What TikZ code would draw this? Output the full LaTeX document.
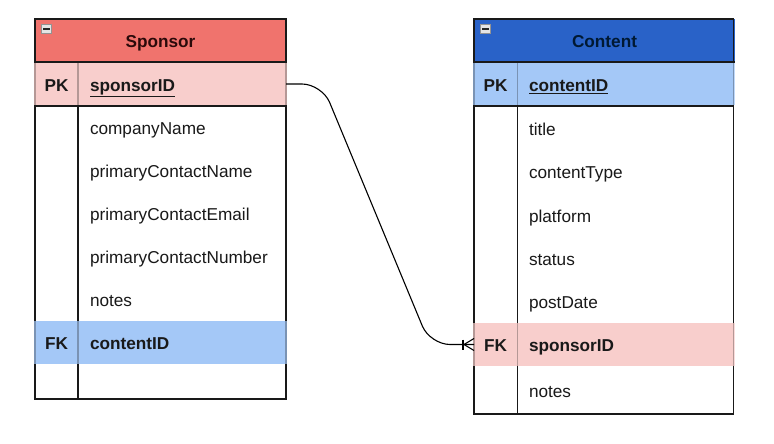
\documentclass[tikz,border=0pt]{standalone}
\usepackage{fontspec}
\setmainfont{Liberation Sans}
\usetikzlibrary{calc}
\pgfdeclarelayer{bg}\pgfdeclarelayer{lines}\pgfdeclarelayer{veil}
\pgfsetlayers{bg,lines,veil,main}
\definecolor{sphead}{HTML}{F0736D}
\definecolor{pinkrow}{HTML}{F8CECC}
\definecolor{cthead}{HTML}{2962C8}
\definecolor{bluerow}{HTML}{A4C8F7}
\definecolor{sptxt}{HTML}{2B0A0A}
\definecolor{cttxt}{HTML}{001933}
\newcommand\fsz{\fontsize{17.2}{20}\selectfont}
\begin{document}
\begin{tikzpicture}[x=1pt,y=-1pt,
  cell/.style={inner sep=0pt, outer sep=0pt, anchor=north west, font=\fsz, text=black!90, text height=14.5pt, text depth=0pt},
  hdr/.style={cell, font=\fsz\bfseries},
  keyc/.style={cell, minimum width=43pt, align=center, font=\fsz\bfseries},
  sfield/.style={cell, text width=184pt, inner xsep=12pt, align=left},
  cfield/.style={cell, text width=193pt, inner xsep=11.5pt, align=left},
  border/.style={line width=1.2pt, draw=black!90},
  conn/.style={line width=1.1pt, draw=black},
  minus/.style={draw=gray!85, line width=0.8pt, fill=gray!20, inner sep=0pt, minimum width=10pt, minimum height=9pt, anchor=north west},
]
\useasboundingbox (0,0) rectangle (774,444);

% ---------------- Sponsor ----------------
\node[hdr, text=sptxt, minimum width=251pt, minimum height=43pt] (sH) at (35,19) {Sponsor};
\node[minus] (sMin) at (41,24) {};
\draw[line width=1.5pt, black!85] ($(sMin.west)+(2.3,0)$) -- ($(sMin.east)+(-2.3,0)$);
\node[keyc, minimum height=44pt] (sK1) at (35,62) {PK};
\node[sfield, minimum height=44pt] (sF1) at (78,62) {\textbf{\underline{sponsorID}}};
\node[sfield, minimum height=43pt] (sF2) at (78,106) {companyName};
\node[sfield, minimum height=43pt] (sF3) at (78,149) {primaryContactName};
\node[sfield, minimum height=43pt] (sF4) at (78,192) {primaryContactEmail};
\node[sfield, minimum height=43pt] (sF5) at (78,235) {primaryContactNumber};
\node[sfield, minimum height=43pt] (sF6) at (78,278) {notes};
\node[keyc, minimum height=43pt] (sK7) at (35,321) {FK};
\node[sfield, minimum height=43pt] (sF7) at (78,321) {\textbf{contentID}};
\node[sfield, minimum height=35pt] (sF8) at (78,364) {};

% ---------------- Content ----------------
\node[hdr, text=cttxt, minimum width=261pt, minimum height=43pt] (cH) at (474,19) {Content};
\node[minus] (cMin) at (480,24) {};
\draw[line width=1.5pt, black!85] ($(cMin.west)+(2.3,0)$) -- ($(cMin.east)+(-2.3,0)$);
\node[keyc, minimum height=44pt] (cK1) at (474,62) {PK};
\node[cfield, minimum height=44pt] (cF1) at (517.5,62) {\textbf{\underline{contentID}}};
\node[cfield, minimum height=44pt] (cF2) at (517.5,106) {title};
\node[cfield, minimum height=43pt] (cF3) at (517.5,150) {contentType};
\node[cfield, minimum height=44pt] (cF4) at (517.5,193) {platform};
\node[cfield, minimum height=43pt] (cF5) at (517.5,237) {status};
\node[cfield, minimum height=43pt] (cF6) at (517.5,280) {postDate};
\node[keyc, minimum height=43pt] (cK7) at (474,323) {FK};
\node[cfield, minimum height=43pt] (cF7) at (517.5,323) {\textbf{sponsorID}};
\node[cfield, minimum height=48pt] (cF8) at (517.5,366) {notes};

% fills
\begin{pgfonlayer}{bg}
  \fill[white] (0,0) rectangle (774,444);
  \fill[sphead] (sH.north west) rectangle (sH.south east);
  \fill[pinkrow] (sK1.north west) rectangle (sF1.south east);
  \fill[bluerow] (sK7.north west) rectangle (sF7.south east);
  \fill[cthead] (cH.north west) rectangle (cH.south east);
  \fill[bluerow] (cK1.north west) rectangle (cF1.south east);
  \fill[pinkrow] (cK7.north west) rectangle (cF7.south east);
\end{pgfonlayer}

% lines
\begin{pgfonlayer}{lines}
  \draw[border] (sH.north west) rectangle (sF8.south east);
  \draw[border] (sH.south west) -- (sH.south east);
  \draw[border] (sF1.north west) -- (sF8.south west);
  \draw[border] (cH.north west) rectangle (cF8.south east);
  \draw[border] (cH.south west) -- (cH.south east);
  \draw[border] (cF1.north west) -- (cF8.south west);
\end{pgfonlayer}

% veils over coloured rows (lighten lines there)
\begin{pgfonlayer}{veil}
  \fill[pinkrow, opacity=0.7] ($(sK1.north west)+(-1,1)$) rectangle ($(sF1.south east)+(1,-1)$);
  \fill[bluerow, opacity=0.7] ($(sK7.north west)+(-1,0)$) rectangle ($(sF7.south east)+(1,0)$);
  \fill[bluerow, opacity=0.7] ($(cK1.north west)+(-1,1)$) rectangle ($(cF1.south east)+(1,-1)$);
  \fill[pinkrow, opacity=0.7] ($(cK7.north west)+(-1,0)$) rectangle ($(cF7.south east)+(1,0)$);
\end{pgfonlayer}
\draw[border] (sK1.south west) -- (sF1.south east);
\draw[border] (cK1.south west) -- (cF1.south east);

% connector with one-or-many crow's foot
\draw[conn, rounded corners=20pt] (sF1.east) -- (322,84) -- (430,344.5) -- (cK7.west);
\draw[conn] ($(cK7.west)+(-11,-5)$) -- ($(cK7.west)+(-11,5)$);
\draw[conn] ($(cK7.west)+(0,-6)$) -- ($(cK7.west)+(-10,0)$) -- ($(cK7.west)+(0,6)$);
\end{tikzpicture}
\end{document}
